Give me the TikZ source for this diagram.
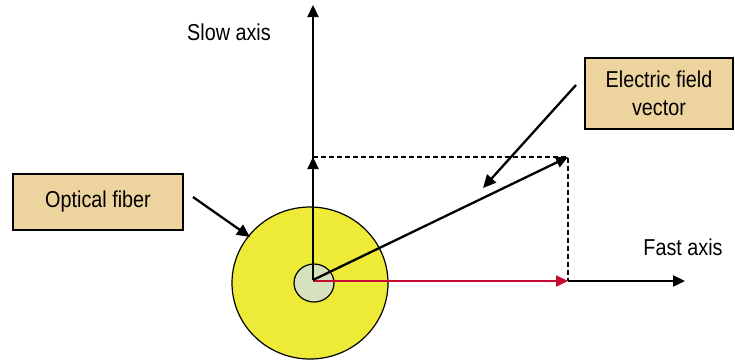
\documentclass[tikz,border=0pt]{standalone}
\usepackage{fontspec}
\setmainfont[FakeStretch=0.86]{Liberation Sans}
\usetikzlibrary{arrows.meta,shapes.geometric}
\definecolor{boxfill}{RGB}{237,211,158}
\definecolor{fibery}{RGB}{238,234,56}
\definecolor{corefill}{RGB}{214,226,190}
\definecolor{redv}{RGB}{200,10,50}
\tikzset{
  lbl/.style={font=\fontsize{23}{26}\selectfont, inner sep=0pt},
  tagbox/.style={draw=black, line width=1.3pt, fill=boxfill, lbl, align=center},
  vec/.style={line width=2.3pt, -{Triangle[length=12pt,width=11pt]}},
  ptr/.style={line width=2.3pt, -{Triangle[length=13pt,width=12pt]}},
  proj/.style={line width=1.8pt, dashed, dash pattern=on 5pt off 3pt}
}
\begin{document}
\begin{tikzpicture}[x=1pt,y=-1pt]
\useasboundingbox (0,0) rectangle (735,360);
% fiber
\node[ellipse, draw=black, line width=1.2pt, fill=fibery, minimum width=156pt, minimum height=152pt, inner sep=0pt] (fiber) at (310,283) {};
\node[ellipse, draw=black, line width=1.2pt, fill=corefill, minimum width=40pt, minimum height=38pt, inner sep=0pt] (core) at (314,283) {};
\coordinate (O) at (313,280);
\coordinate (slowtop) at (313,5);
\coordinate (ey) at (313,157);
\coordinate (E) at (568,157);
\coordinate (ex) at (568,281);
\coordinate (fastend) at (685,281);
% dashed projections
\draw[proj] (ey) -- (E) -- (ex);
% axes
\draw[vec] (O) -- (slowtop);
\draw[vec] (O) -- (ey);
\draw[vec] (ex) -- (fastend);
\draw[vec, redv] (313,281) -- (ex);
\draw[vec] (O) -- (E);
% labels
\node[lbl] (slow) at (229,32) {Slow axis};
\node[lbl] (fast) at (683,247) {Fast axis};
\node[tagbox, minimum width=170pt, minimum height=56pt] (fib) at (98,202) {Optical fiber};
\node[tagbox, minimum width=148pt, minimum height=71pt] (efv) at (659,93.5) {Electric field\\[2pt]vector};
\coordinate (fa) at (193,197);
\coordinate (fb) at (250,237);
\coordinate (ea) at (576,85);
\coordinate (eb) at (483,188);
\draw[ptr] (fa) -- (fb);
\draw[ptr] (ea) -- (eb);
\end{tikzpicture}
\end{document}
